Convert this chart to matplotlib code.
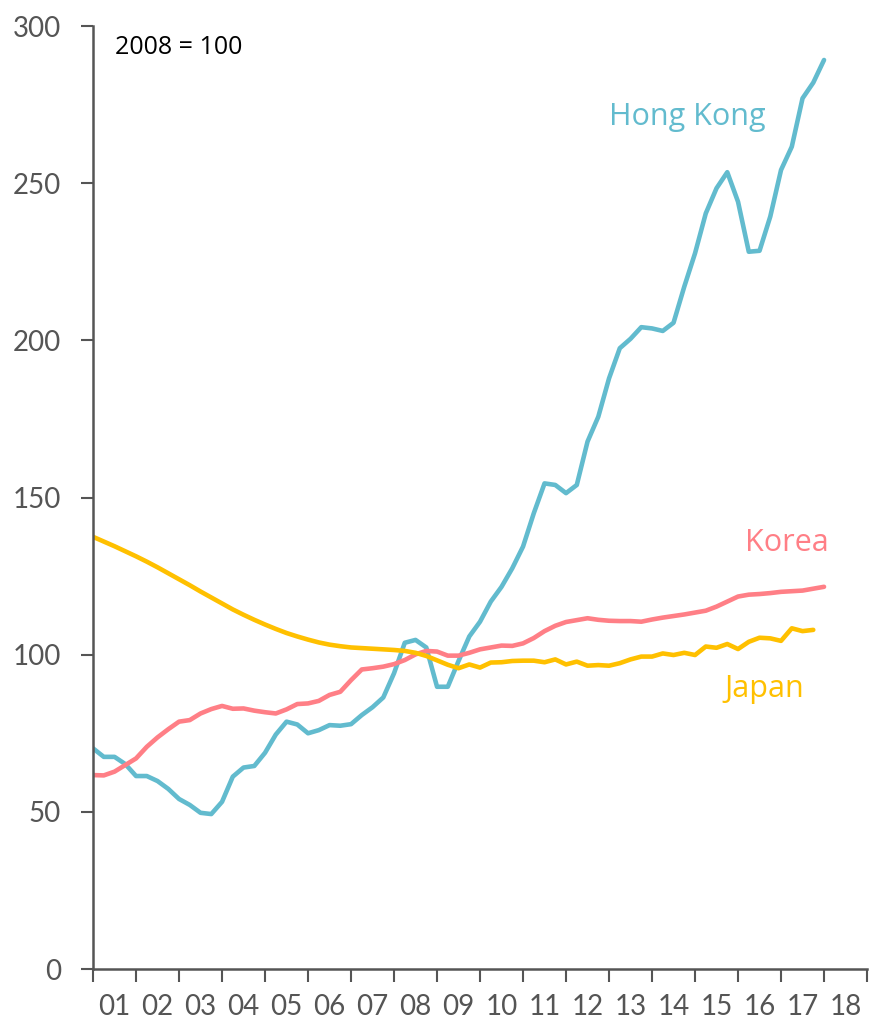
import numpy as np
import matplotlib.pyplot as plt

# quarterly house price indices, 2008 = 100, starting 2001 Q1
hong_kong = [70.2, 67.5, 67.5, 65.2, 61.4, 61.4, 59.8, 57.3, 54.1, 52.2,
             49.7, 49.3, 53.2, 61.2, 64.1, 64.6, 68.8, 74.6, 78.7, 77.8,
             75.0, 76.0, 77.6, 77.4, 77.9, 80.8, 83.3, 86.4, 94.1, 103.8,
             104.7, 102.3, 89.8, 89.8, 98.0, 105.8, 110.5, 116.9, 121.6, 127.5,
             134.4, 145.0, 154.5, 154.0, 151.4, 154.0, 167.8, 175.7, 187.9, 197.5,
             200.5, 204.2, 203.8, 203.0, 205.6, 217.1, 227.7, 240.4, 248.4, 253.5,
             244.1, 228.2, 228.5, 239.4, 254.2, 261.6, 277.0, 282.0, 289.2]
korea = [61.7, 61.6, 62.8, 64.9, 67.0, 70.7, 73.7, 76.3, 78.7, 79.2,
         81.3, 82.7, 83.7, 82.8, 82.9, 82.2, 81.7, 81.3, 82.6, 84.3,
         84.5, 85.3, 87.2, 88.2, 91.9, 95.3, 95.7, 96.2, 97.0, 98.3,
         100.1, 101.2, 101.0, 99.7, 99.7, 100.6, 101.7, 102.3, 102.9, 102.8,
         103.6, 105.3, 107.5, 109.2, 110.4, 111.0, 111.6, 111.1, 110.8, 110.7,
         110.7, 110.5, 111.2, 111.8, 112.3, 112.8, 113.4, 114.0, 115.3, 116.9,
         118.5, 119.1, 119.3, 119.6, 120.0, 120.2, 120.4, 121.0, 121.6]
japan = [137.5, 136.0, 134.5, 132.9, 131.3, 129.6, 127.8, 125.9, 124.0, 122.1,
         120.1, 118.2, 116.3, 114.4, 112.7, 111.1, 109.6, 108.2, 106.9, 105.8,
         104.8, 103.9, 103.2, 102.7, 102.3, 102.1, 101.9, 101.7, 101.5, 101.2,
         100.6, 99.6, 98.2, 96.8, 95.7, 96.9, 95.9, 97.5, 97.6, 98.0,
         98.1, 98.1, 97.6, 98.5, 96.9, 97.8, 96.5, 96.7, 96.5, 97.3,
         98.5, 99.4, 99.4, 100.4, 99.9, 100.6, 99.9, 102.6, 102.2, 103.4,
         101.8, 104.1, 105.4, 105.2, 104.4, 108.4, 107.5, 107.9]
year_labels = ['01', '02', '03', '04', '05', '06', '07', '08', '09',
               '10', '11', '12', '13', '14', '15', '16', '17', '18']

c_hk = '#62BBCE'
c_kr = '#FF7F86'
c_jp = '#FFC000'
grey = '#555555'
label_font = ['Open Sans', 'DejaVu Sans']

plt.rcParams['font.family'] = ['Lato', 'DejaVu Sans']

fig = plt.figure(figsize=(8.72, 10.21), dpi=100)
ax = fig.add_axes([0.1067, 0.0509, 0.8876, 0.9236])

def quarters(series):
    return 2001 + np.arange(len(series)) / 4

ax.plot(quarters(hong_kong), hong_kong, color=c_hk, lw=3.3, solid_capstyle='round')
ax.plot(quarters(korea), korea, color=c_kr, lw=3.3, solid_capstyle='round')
ax.plot(quarters(japan), japan, color=c_jp, lw=3.3, solid_capstyle='round')

ax.set_xlim(2001, 2019)
ax.set_ylim(0, 300)
ax.set_yticks(range(0, 301, 50))
ax.set_xticks(range(2001, 2020))
ax.set_xticklabels([])
ax.set_xticks(np.arange(2001.5, 2019, 1), minor=True)
ax.set_xticklabels(year_labels, minor=True)
ax.tick_params(axis='x', which='minor', length=0, pad=18, labelsize=20, labelcolor=grey)
ax.tick_params(axis='x', which='major', length=9, width=1.5, color=grey, direction='out')
ax.tick_params(axis='y', length=9, width=1.5, color=grey, labelsize=20, labelcolor=grey, pad=14)

for side in ('top', 'right'):
    ax.spines[side].set_visible(False)
for side in ('left', 'bottom'):
    ax.spines[side].set_color(grey)
    ax.spines[side].set_linewidth(1.8)

ax.text(2001.5, 297, '2008 = 100', fontsize=18, color='black', va='top', family=label_font)
ax.text(2013.0, 271, 'Hong Kong', fontsize=22, color=c_hk, va='center', family=label_font)
ax.text(2016.17, 135.5, 'Korea', fontsize=22, color=c_kr, va='center', family=label_font)
ax.text(2015.68, 89, 'Japan', fontsize=22, color=c_jp, va='center', family=label_font)

fig.savefig('out.png', dpi=100)
